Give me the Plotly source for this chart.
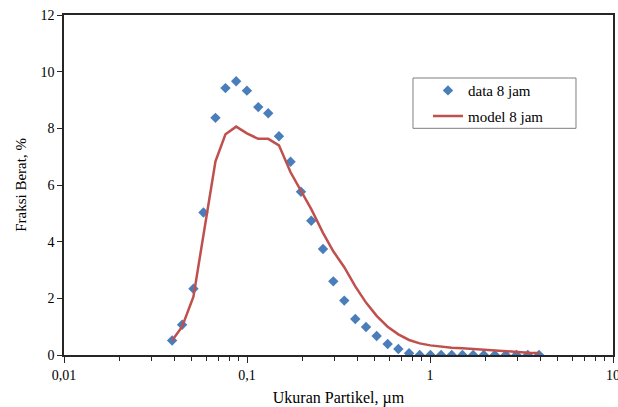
import plotly.graph_objects as go

# Particle size (µm)
size_um = [0.03898, 0.04420, 0.05097, 0.05781, 0.06725, 0.07627, 0.08726, 0.0999,
           0.1152, 0.1306, 0.1495, 0.1730, 0.1972, 0.2245, 0.2602, 0.2962, 0.3401,
           0.3906, 0.4471, 0.5110, 0.5869, 0.6716, 0.7685, 0.8784, 1.005, 1.150,
           1.314, 1.504, 1.721, 1.967, 2.259, 2.592, 2.969, 3.423, 3.943]

data_8jam = [0.51, 1.07, 2.34, 5.03, 8.37, 9.42, 9.66, 9.33, 8.75, 8.53, 7.72, 6.82,
             5.76, 4.74, 3.74, 2.60, 1.92, 1.27, 0.99, 0.67, 0.39, 0.21, 0.06, 0.0,
             0.0, 0.0, 0.0, 0.0, 0.0, 0.0, 0.0, 0.0, 0.0, 0.0, 0.0]

model_8jam = [0.51, 1.0, 2.06, 4.19, 6.84, 7.79, 8.06, 7.82, 7.63, 7.63, 7.40, 6.45,
              5.8, 5.15, 4.31, 3.66, 3.10, 2.42, 1.85, 1.38, 1.00, 0.73, 0.53, 0.41,
              0.34, 0.29, 0.26, 0.24, 0.21, 0.20, 0.15, 0.13, 0.11, 0.08, 0.07]

x_tickvals = [0.01, 0.1, 1, 10]
x_ticktext = ["0,01", "0,1", "1", "10"]
x_minor = [m * d for d in (0.01, 0.1, 1) for m in range(2, 10)]
y_tickvals = [0, 2, 4, 6, 8, 10, 12]

FONT = "Liberation Serif"
AXC = "#262626"

fig = go.Figure()
fig.add_trace(go.Scatter(
    x=size_um, y=data_8jam, mode="markers", name="data 8 jam", legendgroup="a",
    marker=dict(symbol="diamond", size=8, color="#4A7EBB"),
))
fig.add_trace(go.Scatter(
    x=size_um, y=model_8jam, mode="lines", name="model 8 jam", legendgroup="b",
    line=dict(color="#C0504D", width=2.5),
))

# legend frame
fig.add_shape(type="rect", xref="paper", yref="paper",
              x0=0.6357, x1=0.9326, y0=0.6667, y1=0.8147,
              line=dict(color="#7F7F7F", width=1), fillcolor="white", layer="below")

fig.update_layout(
    width=618, height=407,
    margin=dict(l=64, r=5, t=15, b=52),
    paper_bgcolor="white", plot_bgcolor="white",
    font=dict(family=FONT, size=14, color="#000000"),
    showlegend=True,
    legend=dict(
        x=0.663, y=0.826, xanchor="left", yanchor="top",
        bgcolor="rgba(0,0,0,0)", borderwidth=0,
        font=dict(family=FONT, size=15),
        itemwidth=30, tracegroupgap=3, traceorder="grouped",
    ),
)
fig.update_xaxes(
    type="log", range=[-2, 1], automargin=False, ticklabeloverflow="allow",
    tickvals=x_tickvals, ticktext=x_ticktext,
    ticks="outside", ticklen=6, tickwidth=1, tickcolor=AXC,
    minor=dict(tickvals=x_minor, ticks="outside", ticklen=4, tickcolor=AXC, tickwidth=1),
    showline=True, linecolor=AXC, linewidth=1.5, mirror=True,
    showgrid=False, zeroline=False,
    title=dict(text="Ukuran Partikel, µm", font=dict(family=FONT, size=16), standoff=10),
    tickfont=dict(family=FONT, size=14),
)
fig.update_yaxes(
    range=[0, 12], tickvals=y_tickvals, automargin=False,
    ticks="outside", ticklen=5, tickwidth=1, tickcolor=AXC,
    showline=True, linecolor=AXC, linewidth=1.5, mirror=True,
    showgrid=False, zeroline=False,
    title=dict(text="Fraksi Berat, %", font=dict(family=FONT, size=15), standoff=10),
    tickfont=dict(family=FONT, size=14),
)

fig.write_html("out.html")
